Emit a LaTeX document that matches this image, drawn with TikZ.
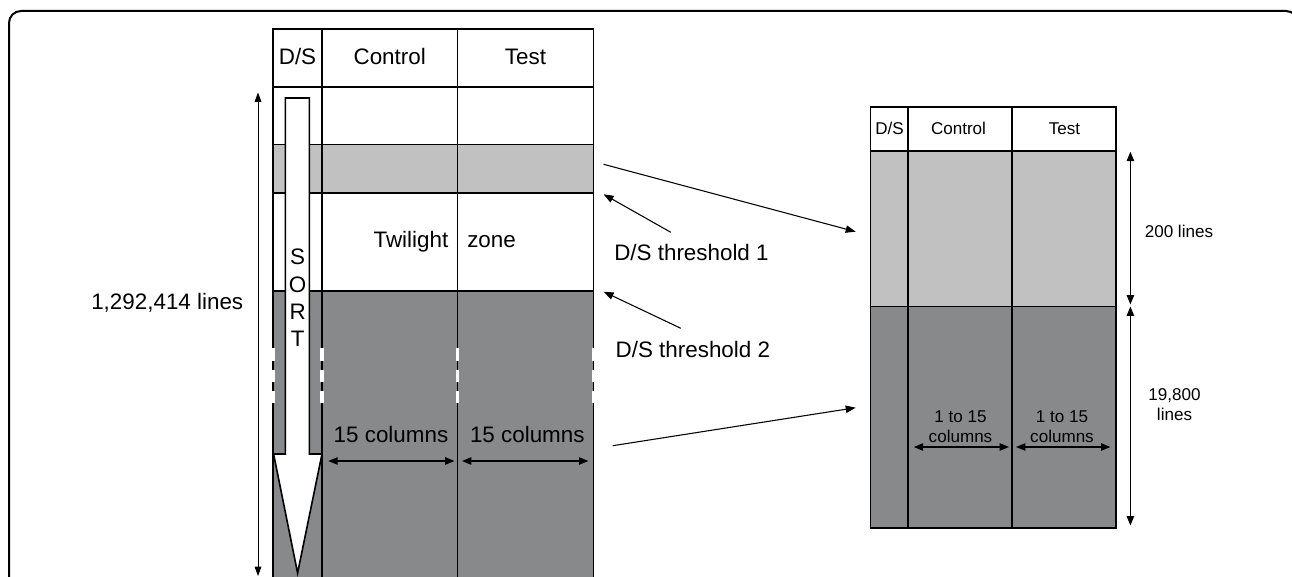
\documentclass[tikz,border=0pt]{standalone}
\usepackage{fontspec}
\setmainfont{Liberation Sans}
\usetikzlibrary{arrows.meta}
\definecolor{lightband}{HTML}{C0C1C0}
\definecolor{darkband}{HTML}{88898B}

\begin{document}
\begin{tikzpicture}[x=0.75pt,y=-0.75pt,
  big/.style={font=\fontsize{16.8}{20}\selectfont, inner sep=0pt},
  small/.style={font=\fontsize{12.8}{15}\selectfont, inner sep=0pt},
  rule/.style={line width=1.3pt},
  onetip/.style={line width=0.8pt, -{Triangle[length=7.5pt,width=5.5pt]}},
  twotips/.style={line width=1pt, {Triangle[length=7pt,width=5.5pt]}-{Triangle[length=7pt,width=5.5pt]}},
  thintwotips/.style={line width=0.6pt, {Triangle[length=7pt,width=5pt]}-{Triangle[length=7pt,width=5pt]}},
  gapmark/.style={fill=white, draw=none},
]
\useasboundingbox (0,0) rectangle (1292,577);
\clip (0,0) rectangle (1292,577);

% outer frame
\draw[line width=1.5pt, rounded corners=9pt] (9,11) rectangle (1298,640);

% ---------------- full table ----------------
\fill[lightband] (273,144.5) rectangle (593.5,193);
\fill[darkband] (273,290.7) rectangle (593.5,640);
\draw[rule] (273,29) rectangle (593.5,640);
\draw[rule] (322,29) -- (322,640) (457.5,29) -- (457.5,640);
\draw[rule] (273,87) -- (593.5,87) (273,144.5) -- (593.5,144.5)
            (273,193) -- (593.5,193) (273,290.7) -- (593.5,290.7);
% broken column lines (table continues)
\foreach \x in {273,322,457.5,593.5}
  \foreach \a/\b in {348/361,370/382,391/403}
    \fill[gapmark] (\x-1.8,\a) rectangle (\x+1.8,\b);

% sort arrow
\draw[line width=1.2pt, fill=white] (285.3,98) -- (309.3,98) -- (309.3,454)
  -- (322,454) -- (297.6,573) -- (273.6,454) -- (285.3,454) -- cycle;
\node[big, anchor=base] (sortS) at (297.6,265) {S};
\node[big, anchor=base] (sortO) at (297.6,292.5) {O};
\node[big, anchor=base] (sortR) at (297.6,319.5) {R};
\node[big, anchor=base] (sortT) at (297.6,346) {T};

% header
\node[big, anchor=base] (hds) at (297.5,65) {D/S};
\node[big, anchor=base] (hctl) at (389.7,65) {Control};
\node[big, anchor=base] (htst) at (525.5,65) {Test};

\node[big, anchor=base east] (twi) at (448.5,247.3) {Twilight};
\node[big, anchor=base west] (zone) at (467,247.3) {zone};

\node[big, anchor=base] (colA) at (391,442.3) {15 columns};
\node[big, anchor=base] (colB) at (527.3,442.3) {15 columns};
\coordinate (colAl) at (328.3,461);
\coordinate (colAr) at (454.5,461);
\coordinate (colBl) at (462,461);
\coordinate (colBr) at (588.4,461);
\draw[twotips] (colAl) -- (colAr);
\draw[twotips] (colBl) -- (colBr);

% total length
\coordinate (totTop) at (258,92.5);
\coordinate (totBot) at (258,576);
\draw[thintwotips] (totTop) -- (totBot);
\node[big, anchor=base east] (total) at (243.5,309.3) {1,292,414 lines};

% thresholds
\node[big, anchor=base west] (th1) at (614,261) {D/S threshold 1};
\node[big, anchor=base west] (th2) at (615.4,357.7) {D/S threshold 2};
\coordinate (th1from) at (670.8,232.3);
\coordinate (th1to) at (603.6,194.3);
\coordinate (th2from) at (680.8,328.3);
\coordinate (th2to) at (603.6,291.7);
\draw[onetip] (th1from) -- (th1to);
\draw[onetip] (th2from) -- (th2to);

% ---------------- extract table ----------------
\fill[lightband] (870.6,150.7) rectangle (1116.3,306.5);
\fill[darkband] (870.6,306.5) rectangle (1116.3,528.3);
\draw[rule] (870.6,106.7) rectangle (1116.3,528.3);
\draw[rule] (908.3,106.7) -- (908.3,528.3) (1012.3,106.7) -- (1012.3,528.3)
            (870.6,150.7) -- (1116.3,150.7) (870.6,306.5) -- (1116.3,306.5);

\node[small, anchor=base] (xds) at (889.5,135) {D/S};
\node[small, anchor=base] (xctl) at (958.5,135) {Control};
\node[small, anchor=base] (xtst) at (1064.5,135) {Test};

\node[small, anchor=base, align=center] (xcolA) at (960.5,442.3) {1 to 15\\columns};
\node[small, anchor=base, align=center] (xcolB) at (1062,442.3) {1 to 15\\columns};
\coordinate (xcolAl) at (913.8,447);
\coordinate (xcolAr) at (1009,447);
\coordinate (xcolBl) at (1016,447);
\coordinate (xcolBr) at (1110.4,447);
\draw[twotips] (xcolAl) -- (xcolAr);
\draw[twotips] (xcolBl) -- (xcolBr);

\coordinate (hiTop) at (1130.4,151.7);
\coordinate (hiBot) at (1130.4,304.5);
\coordinate (loTop) at (1130.4,306.5);
\coordinate (loBot) at (1130.4,525.5);
\draw[twotips] (hiTop) -- (hiBot);
\draw[twotips] (loTop) -- (loBot);
\node[small, anchor=base west] (hiLbl) at (1144.5,237.3) {200 lines};
\node[small, anchor=base, align=center] (loLbl) at (1174.5,420) {19,800\\lines};

% ---------------- mapping arrows ----------------
\coordinate (mapAfrom) at (603.6,164.3);
\coordinate (mapAto) at (855.7,231.7);
\coordinate (mapBfrom) at (612.7,445.7);
\coordinate (mapBto) at (855.7,407.7);
\draw[onetip] (mapAfrom) -- (mapAto);
\draw[onetip] (mapBfrom) -- (mapBto);
\end{tikzpicture}
\end{document}
